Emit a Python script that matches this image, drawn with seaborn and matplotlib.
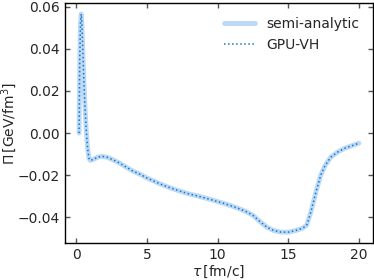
import numpy as np
import pandas as pd
import matplotlib
matplotlib.use("Agg")
import matplotlib.pyplot as plt
import seaborn as sns

# proper time tau [fm/c]
tau = [0.2, 0.25, 0.3, 0.35, 0.4, 0.45, 0.5, 0.6, 0.7, 0.8, 0.9, 1.0,
       1.2, 1.5, 1.8, 2.2, 2.6, 3.0, 3.5, 4.0, 4.5, 5.0, 5.5, 6.0, 6.5,
       7.0, 7.5, 8.0, 8.5, 9.0, 9.5, 10.0, 10.5, 11.0, 11.5, 12.0, 12.5,
       13.0, 13.5, 14.0, 14.5, 15.0, 15.5, 16.0, 16.3, 16.6, 17.0, 17.3,
       17.6, 18.0, 18.5, 19.0, 19.5, 20.0]

# bulk pressure Pi [GeV/fm^3]
pi_semi = [0.0, 0.035, 0.052, 0.0565, 0.052, 0.042, 0.032, 0.015, 0.002,
           -0.007, -0.012, -0.013, -0.0125, -0.0115, -0.011, -0.0115,
           -0.0127, -0.014, -0.016, -0.018, -0.0195, -0.0213, -0.0228,
           -0.0243, -0.0256, -0.0268, -0.0279, -0.0289, -0.0297, -0.0306,
           -0.0315, -0.0325, -0.0335, -0.0346, -0.0358, -0.0372, -0.039,
           -0.042, -0.0447, -0.0463, -0.047, -0.047, -0.0463, -0.0452,
           -0.0438, -0.0375, -0.027, -0.02, -0.0155, -0.0115, -0.009,
           -0.0072, -0.006, -0.0048]
pi_gpu = list(pi_semi)

sns.set_style("ticks")
plt.rcParams.update({
    "font.family": ["DejaVu Sans"],
    "font.size": 10,
    "xtick.direction": "in",
    "ytick.direction": "in",
    "xtick.top": True,
    "ytick.right": True,
    "axes.edgecolor": "black",
    "axes.linewidth": 1.0,
})

df = pd.DataFrame({"tau": tau, "semi": pi_semi, "gpu": pi_gpu})

fig, ax = plt.subplots(figsize=(3.74, 2.8), dpi=100)
sns.lineplot(data=df, x="tau", y="semi", ax=ax, color="#bcdaf5", lw=3.5,
             label="semi-analytic", sort=False)
sns.lineplot(data=df, x="tau", y="gpu", ax=ax, color="#1a74c8", lw=1.1,
             ls=":", label="GPU-VH", sort=False)

ax.set_xticks([0, 5, 10, 15, 20])
ax.set_yticks([-0.04, -0.02, 0.0, 0.02, 0.04, 0.06])
ax.set_xlabel(r"$\tau\,$[fm/c]", labelpad=1)
ax.set_ylabel(r"$\Pi\,$[GeV/fm$^3$]", labelpad=-1)
ax.tick_params(length=3.5, width=1, color="#555555")
ax.legend(loc="upper right", frameon=False, fontsize=10,
          borderaxespad=0.6, handlelength=2.2)

fig.subplots_adjust(left=0.174, right=0.997, top=0.989, bottom=0.132)
fig.savefig("out.png", dpi=100)
